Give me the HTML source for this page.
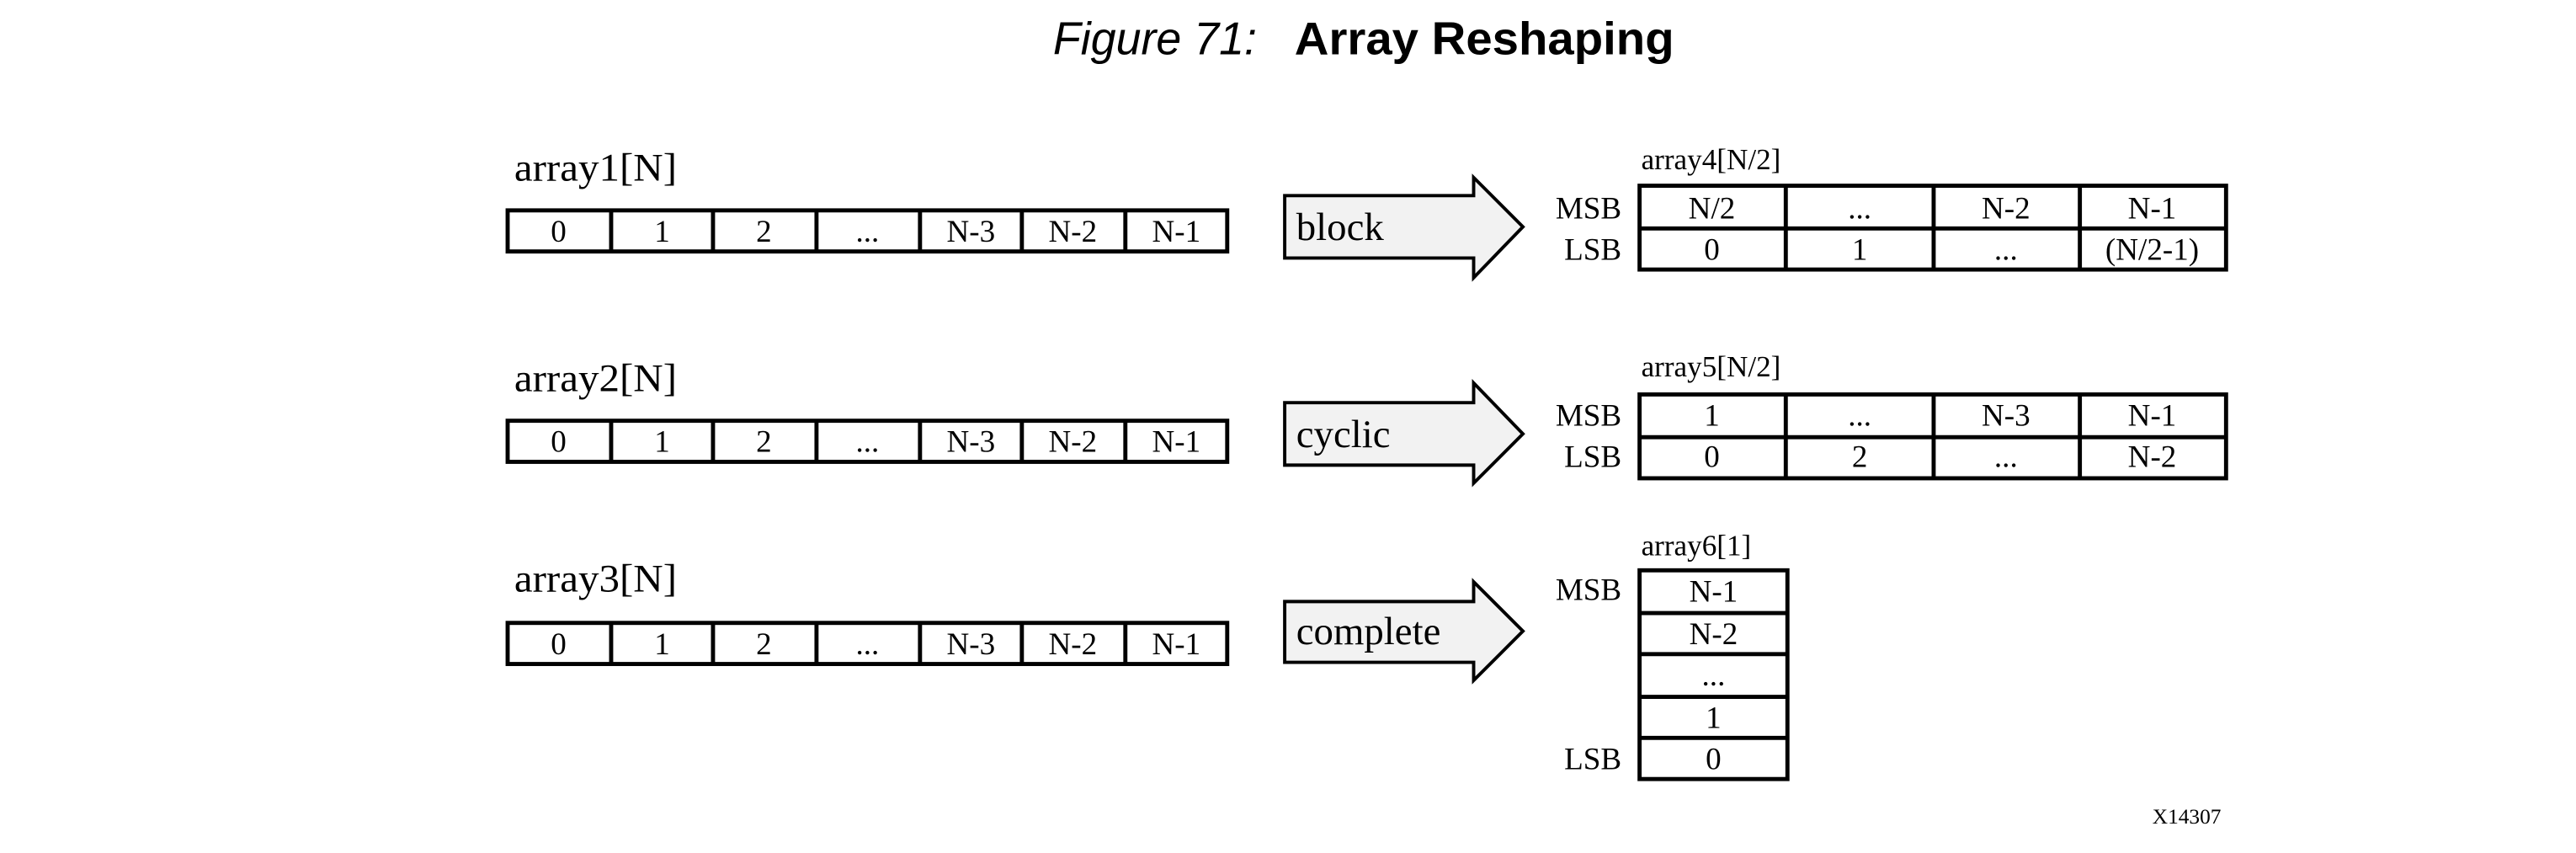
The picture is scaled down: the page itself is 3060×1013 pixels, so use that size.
<!DOCTYPE html>
<html><head><meta charset="utf-8"><style>html,body{margin:0;padding:0;background:#fff}svg{display:block}</style></head>
<body>
<svg width="3060" height="1013" viewBox="0 0 1568 519" preserveAspectRatio="none" xmlns="http://www.w3.org/2000/svg">
<rect width="1570" height="520" fill="#fff"/>
<text x="641" y="33" font-family="Liberation Sans, sans-serif" font-style="italic" font-size="28" textLength="124" lengthAdjust="spacingAndGlyphs">Figure 71:</text>
<text x="788" y="33" font-family="Liberation Sans, sans-serif" font-weight="bold" font-size="28" textLength="231" lengthAdjust="spacingAndGlyphs">Array Reshaping</text>
<g font-family="Liberation Serif, serif" fill="#000">
<g font-size="24">
<text x="313" y="110" textLength="99" lengthAdjust="spacingAndGlyphs">array1[N]</text>
<text x="313" y="238" textLength="99" lengthAdjust="spacingAndGlyphs">array2[N]</text>
<text x="313" y="360" textLength="99" lengthAdjust="spacingAndGlyphs">array3[N]</text>
</g>
<g stroke="#000" stroke-width="2.5" fill="none">
<rect x="309" y="128" width="438" height="25"/>
<path d="M372 128V153M434 128V153M497 128V153M560 128V153M622 128V153M685 128V153"/>
<rect x="309" y="256" width="438" height="25"/>
<path d="M372 256V281M434 256V281M497 256V281M560 256V281M622 256V281M685 256V281"/>
<rect x="309" y="379" width="438" height="25"/>
<path d="M372 379V404M434 379V404M497 379V404M560 379V404M622 379V404M685 379V404"/>
</g>
<g font-size="19" text-anchor="middle">
<text x="340" y="147">0</text><text x="403" y="147">1</text><text x="465" y="147">2</text><text x="528" y="147">...</text><text x="591" y="147">N-3</text><text x="653" y="147">N-2</text><text x="716" y="147">N-1</text>
<text x="340" y="275">0</text><text x="403" y="275">1</text><text x="465" y="275">2</text><text x="528" y="275">...</text><text x="591" y="275">N-3</text><text x="653" y="275">N-2</text><text x="716" y="275">N-1</text>
<text x="340" y="398">0</text><text x="403" y="398">1</text><text x="465" y="398">2</text><text x="528" y="398">...</text><text x="591" y="398">N-3</text><text x="653" y="398">N-2</text><text x="716" y="398">N-1</text>
</g>
<g fill="#f2f2f2" stroke="#000" stroke-width="2">
<path d="M782 119H897V108L927 138L897 169V157H782Z"/>
<path d="M782 245H897V233L927 264L897 294V283H782Z"/>
<path d="M782 366H897V354L927 384L897 414V403H782Z"/>
</g>
<g font-size="24">
<text x="789" y="146">block</text>
<text x="789" y="272">cyclic</text>
<text x="789" y="392">complete</text>
</g>
<g font-size="18">
<text x="999" y="103">array4[N/2]</text>
<text x="999" y="229">array5[N/2]</text>
<text x="999" y="338">array6[1]</text>
<text x="1352" y="501" font-size="13" text-anchor="end">X14307</text>
</g>
<g font-size="19" text-anchor="end">
<text x="987" y="133">MSB</text><text x="987" y="158">LSB</text>
<text x="987" y="259">MSB</text><text x="987" y="284">LSB</text>
<text x="987" y="365">MSB</text><text x="987" y="468">LSB</text>
</g>
<g stroke="#000" stroke-width="2.5" fill="none">
<rect x="998" y="113" width="357" height="51"/>
<path d="M998 139H1355M1087 113V164M1177 113V164M1266 113V164"/>
<rect x="998" y="240" width="357" height="51"/>
<path d="M998 266H1355M1087 240V291M1177 240V291M1266 240V291"/>
<rect x="998" y="347" width="90" height="127"/>
<path d="M998 373H1088M998 398H1088M998 424H1088M998 449H1088"/>
</g>
<g font-size="19" text-anchor="middle">
<text x="1042" y="133">N/2</text><text x="1132" y="133">...</text><text x="1221" y="133">N-2</text><text x="1310" y="133">N-1</text>
<text x="1042" y="158">0</text><text x="1132" y="158">1</text><text x="1221" y="158">...</text><text x="1310" y="158">(N/2-1)</text>
<text x="1042" y="259">1</text><text x="1132" y="259">...</text><text x="1221" y="259">N-3</text><text x="1310" y="259">N-1</text>
<text x="1042" y="284">0</text><text x="1132" y="284">2</text><text x="1221" y="284">...</text><text x="1310" y="284">N-2</text>
<text x="1043" y="366">N-1</text><text x="1043" y="392">N-2</text><text x="1043" y="417">...</text><text x="1043" y="443">1</text><text x="1043" y="468">0</text>
</g>
</g>
</svg>
</body></html>
